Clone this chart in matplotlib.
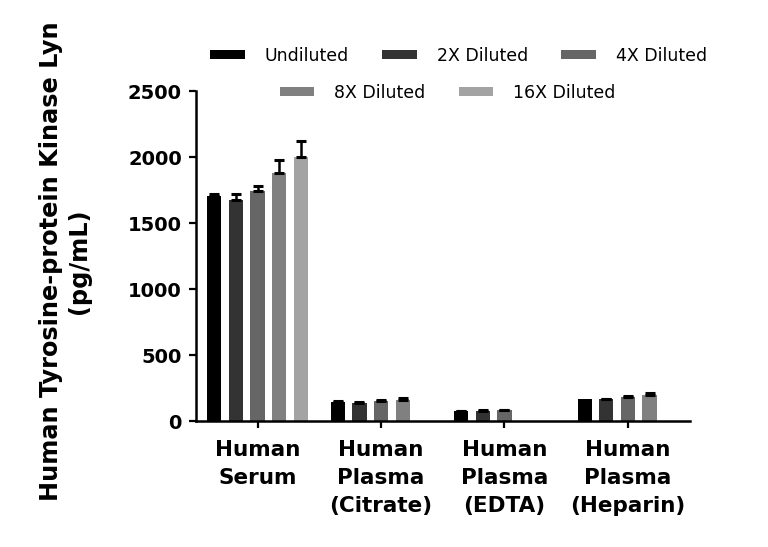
import numpy as np
import matplotlib
matplotlib.use("Agg")
import matplotlib.pyplot as plt
from matplotlib.patches import Patch

# data
samples = ["Human\nSerum", "Human\nPlasma\n(Citrate)", "Human\nPlasma\n(EDTA)", "Human\nPlasma\n(Heparin)"]
dilutions = ["Undiluted", "2X Diluted", "4X Diluted", "8X Diluted", "16X Diluted"]
colors = ["#000000", "#333333", "#666666", "#808080", "#a3a3a3"]

undiluted = [1705, 144, 73, 169]
dil_2x = [1675, 136, 78, 164]
dil_4x = [1742, 149, 81, 182]
dil_8x = [1876, 161, np.nan, 199]
dil_16x = [2002, np.nan, np.nan, np.nan]

err_undiluted = [15, 8, 6, 0]
err_2x = [45, 6, 6, 6]
err_4x = [40, 8, 6, 8]
err_8x = [100, 10, 0, 12]
err_16x = [123, 0, 0, 0]

series = [undiluted, dil_2x, dil_4x, dil_8x, dil_16x]
errors = [err_undiluted, err_2x, err_4x, err_8x, err_16x]

plt.rcParams['font.family'] = ['DejaVu Sans']

fig = plt.figure(figsize=(7.68, 5.47), dpi=100)
ax = fig.add_axes([0.255, 0.2303, 0.643, 0.6033])

x = np.arange(len(samples))
slot = 0.175
width = 0.115
for i, (vals, errs) in enumerate(zip(series, errors)):
    pos = x + (i - 2) * slot
    vals = np.array(vals, dtype=float)
    errs = np.array(errs, dtype=float)
    ax.bar(pos, vals, width=width, color=colors[i], zorder=2)
    ok = ~np.isnan(vals) & (errs > 0)
    ax.errorbar(pos[ok], vals[ok], yerr=[np.zeros(ok.sum()), errs[ok]],
                fmt="none", ecolor="black", elinewidth=1.8, capsize=3.5,
                capthick=2.2, zorder=3)

ax.set_xlim(-0.5, 3.5)
ax.set_ylim(0, 2500)
ax.set_yticks([0, 500, 1000, 1500, 2000, 2500])
ax.set_xticks(x)
ax.set_xticklabels(samples, fontsize=15.5, fontweight="bold", linespacing=1.5)
for lab in ax.get_yticklabels():
    lab.set_fontsize(14)
    lab.set_fontweight("bold")

for side in ["top", "right"]:
    ax.spines[side].set_visible(False)
for side in ["left", "bottom"]:
    ax.spines[side].set_linewidth(1.8)
ax.tick_params(axis="both", direction="out", length=5, width=1.6)
ax.tick_params(axis="y", pad=5)
ax.tick_params(axis="x", pad=9)

fig.text(0.085, 0.523, "Human Tyrosine-protein Kinase Lyn\n(pg/mL)", rotation=90,
         ha="center", va="center", fontsize=17.3, fontweight="bold", linespacing=1.2)

handles = [Patch(facecolor=c, edgecolor="none") for c in colors]
leg_kw = dict(frameon=False, fontsize=12.5, handlelength=2.0, handleheight=0.4,
              handletextpad=1.15, columnspacing=1.9, borderaxespad=0, borderpad=0)
leg1 = fig.legend(handles[:3], dilutions[:3], ncol=3, loc="center",
                  bbox_to_anchor=(0.597, 0.8976), **leg_kw)
leg2 = fig.legend(handles[3:], dilutions[3:], ncol=2, loc="center",
                  bbox_to_anchor=(0.583, 0.83), **leg_kw)

fig.savefig("out.png", dpi=100)
